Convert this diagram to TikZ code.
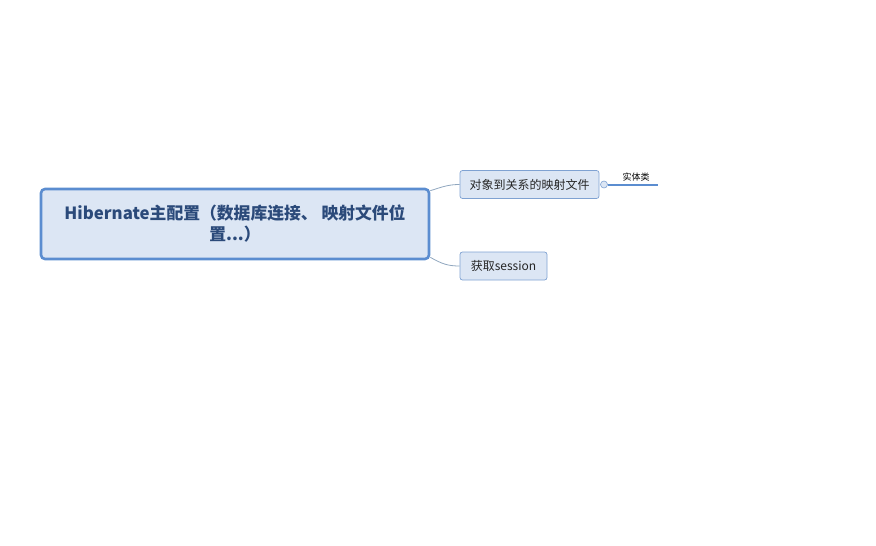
\documentclass[tikz,border=0pt]{standalone}
\usepackage{fontspec}
\setmainfont{Noto Sans CJK SC}
\usetikzlibrary{positioning}
\definecolor{topicfill}{HTML}{DCE6F4}
\definecolor{topicline}{HTML}{5B8DD0}
\definecolor{subline}{HTML}{7FA2D2}
\definecolor{linkcol}{HTML}{8FA6BE}
\definecolor{topictext}{HTML}{2B4A7A}
\begin{document}
\begin{tikzpicture}[x=1pt,y=-1pt,
  central/.style={draw=topicline, line width=2.6pt, fill=topicfill, rounded corners=4pt,
    minimum width=388pt, minimum height=70pt, align=center, inner sep=0pt,
    text=topictext, font=\fontsize{16.8}{21}\selectfont\bfseries},
  topic/.style={draw=subline, line width=0.7pt, fill=topicfill, rounded corners=2.5pt,
    minimum height=28pt, inner sep=0pt, text=black!85, font=\fontsize{12}{13}\selectfont},
  link/.style={draw=linkcol, line width=0.8pt}]
\useasboundingbox (0,0) rectangle (876,546);
\node[central] (root) at (235,224){Hibernate主配置（数据库连接、 映射文件位\\置...）};
\node[topic, minimum width=139pt] (map) at (529.5,184.5){对象到关系的映射文件};
\node[topic, minimum width=87pt] (sess) at (503.5,266){获取session};
\draw[link] ([yshift=-3pt]root.north east) .. controls (442,187) and (448,184.5) .. (map.west);
\draw[link] ([yshift=3pt]root.south east) .. controls (442,264) and (448,266) .. (sess.west);
% collapsed branch
\node[circle, draw=subline, fill=topicfill, line width=0.6pt, minimum size=7pt, inner sep=0pt] (fold) at (604,184.5){};
\coordinate (tipend) at (658,184.5);
\draw[draw=topicline, line width=2pt] (fold.east) -- (tipend);
\node[font=\fontsize{9}{10}\selectfont, anchor=south, inner sep=1pt] (ent) at (636,182){实体类};
\end{tikzpicture}
\end{document}
